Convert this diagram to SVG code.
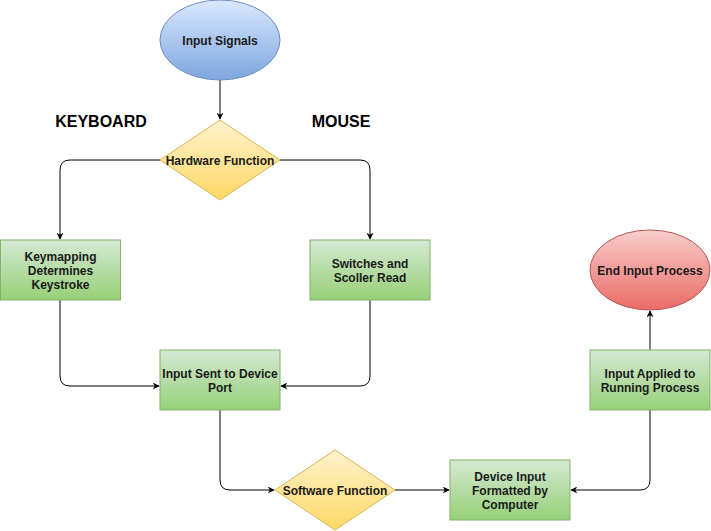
<svg xmlns="http://www.w3.org/2000/svg" width="711" height="531" viewBox="0 0 711 531">
<defs>
<linearGradient id="gBlue" x1="0" y1="0" x2="0" y2="1"><stop offset="0" stop-color="#dae8fc"/><stop offset="1" stop-color="#7ea6e0"/></linearGradient>
<linearGradient id="gYel" x1="0" y1="0" x2="0" y2="1"><stop offset="0" stop-color="#fff2cc"/><stop offset="1" stop-color="#ffd966"/></linearGradient>
<linearGradient id="gGrn" x1="0" y1="0" x2="0" y2="1"><stop offset="0" stop-color="#d5e8d4"/><stop offset="1" stop-color="#97d077"/></linearGradient>
<linearGradient id="gRed" x1="0" y1="0" x2="0" y2="1"><stop offset="0" stop-color="#f8cecc"/><stop offset="1" stop-color="#ea6b66"/></linearGradient>
<marker id="arr" viewBox="0 0 10 10" refX="9" refY="5" markerWidth="7" markerHeight="7" orient="auto" markerUnits="userSpaceOnUse">
<path d="M0,0 L10,5 L0,10 L3,5 Z" fill="#000"/>
</marker>
<style>
text{font-family:"Liberation Sans",Arial,sans-serif;font-size:12px;font-weight:bold;fill:#1a1a1a;text-anchor:middle}
.lbl{font-size:16px;fill:#000}
.blue{fill:url(#gBlue);stroke:#6c8ebf}
.yel{fill:url(#gYel);stroke:#d6b656}
.grn{fill:url(#gGrn);stroke:#82b366}
.red{fill:url(#gRed);stroke:#b85450}
.edge{fill:none;stroke:#000;stroke-width:1;marker-end:url(#arr)}
</style>
</defs>
<g id="connectors">
<path class="edge" d="M220 80 V119"/>
<path class="edge" d="M160 160 H70 Q60 160 60 170 V239"/>
<path class="edge" d="M280 160 H360 Q370 160 370 170 V239"/>
<path class="edge" d="M60 300 V376 Q60 386 70 386 H159"/>
<path class="edge" d="M370 300 V376 Q370 386 360 386 H281"/>
<path class="edge" d="M220 410 V480 Q220 490 230 490 H274"/>
<path class="edge" d="M395 490 H449"/>
<path class="edge" d="M650 410 V480 Q650 490 640 490 H571"/>
<path class="edge" d="M650 350 V311"/>
</g>
<g id="label-keyboard"><text class="lbl" x="101" y="127">KEYBOARD</text></g>
<g id="label-mouse"><text class="lbl" x="341" y="127">MOUSE</text></g>
<g id="input-signals">
<ellipse class="blue" cx="220" cy="40" rx="60" ry="40"/>
<text x="220" y="45">Input Signals</text>
</g>
<g id="hardware-function">
<polygon class="yel" points="220,120 280,160 220,200 160,160"/>
<text x="220" y="165">Hardware Function</text>
</g>
<g id="keymapping">
<rect class="grn" x="0.5" y="240" width="120" height="60"/>
<text x="60.5" y="261">Keymapping</text>
<text x="60.5" y="275">Determines</text>
<text x="60.5" y="289">Keystroke</text>
</g>
<g id="switches">
<rect class="grn" x="310" y="240" width="120" height="60"/>
<text x="370" y="268">Switches and</text>
<text x="370" y="282">Scoller Read</text>
</g>
<g id="input-sent">
<rect class="grn" x="160" y="350" width="120" height="60"/>
<text x="220" y="378">Input Sent to Device</text>
<text x="220" y="392">Port</text>
</g>
<g id="software-function">
<polygon class="yel" points="335,450 395,490 335,530 275,490"/>
<text x="335" y="495">Software Function</text>
</g>
<g id="device-input">
<rect class="grn" x="450" y="460" width="120" height="60"/>
<text x="510" y="481">Device Input</text>
<text x="510" y="495">Formatted by</text>
<text x="510" y="509">Computer</text>
</g>
<g id="input-applied">
<rect class="grn" x="590" y="350" width="120" height="60"/>
<text x="650" y="378">Input Applied to</text>
<text x="650" y="392">Running Process</text>
</g>
<g id="end-input">
<ellipse class="red" cx="650" cy="270" rx="60" ry="40"/>
<text x="650" y="275">End Input Process</text>
</g>
</svg>
